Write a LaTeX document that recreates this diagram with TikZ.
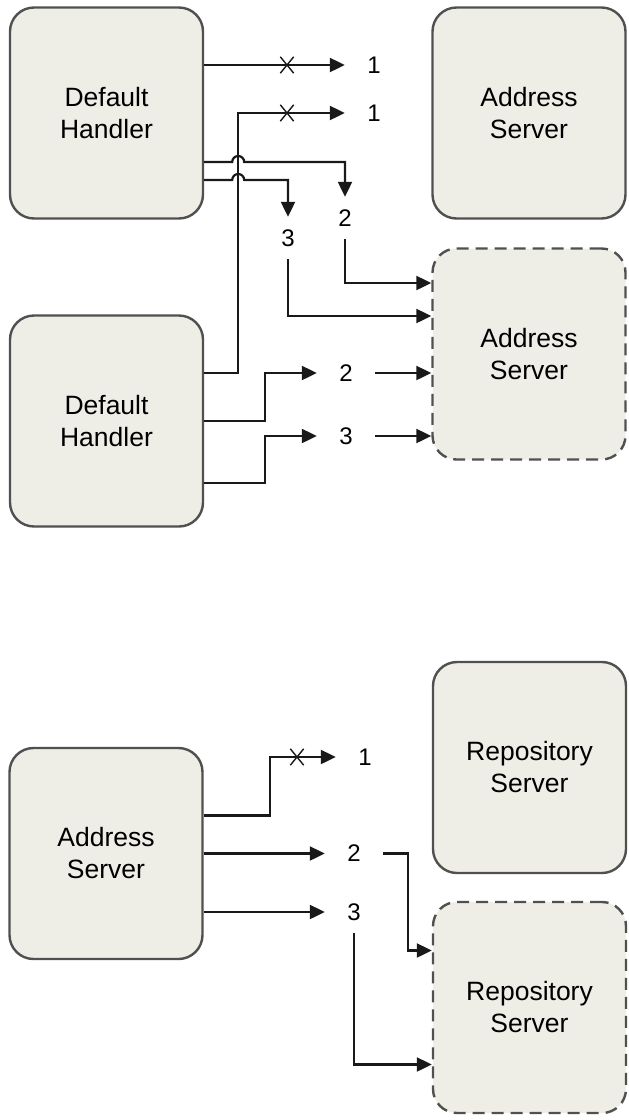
\documentclass[tikz,border=0pt]{standalone}
\usepackage{fontspec}
\setmainfont{Liberation Sans}
\usetikzlibrary{arrows.meta,shapes.misc}
\definecolor{boxfill}{RGB}{238,238,230}
\definecolor{boxline}{RGB}{80,80,80}
\definecolor{wire}{RGB}{25,25,25}
\begin{document}
\begin{tikzpicture}[x=1pt,y=1pt,
  box/.style={rectangle, rounded corners=24pt, draw=boxline, line width=2.4pt, fill=boxfill,
    minimum width=193pt, minimum height=211pt, align=center, font=\fontsize{26.5}{32}\selectfont},
  dashbox/.style={box, dash pattern=on 12pt off 7pt},
  num/.style={minimum width=58pt, minimum height=42pt, inner sep=0pt, font=\fontsize{24}{28}\selectfont},
  link/.style={draw=wire, line width=2.2pt, -{Triangle[length=15pt,width=14pt]}},
  xmark/.style={cross out, draw=wire, line width=1.4pt, minimum width=12pt, minimum height=15pt, inner sep=0pt}]

\useasboundingbox (0,0) rectangle (629,-1120);

\node[box] (dhA) at (106.5,-113) {Default\\Handler};
\node[box] (asA) at (529,-113) {Address\\Server};
\node[dashbox] (asB) at (529,-354) {Address\\Server};
\node[box] (dhB) at (106.5,-421) {Default\\Handler};

\node[num] (oneA) at (374,-65) {1};
\node[num] (oneB) at (374,-113) {1};
\node[num] (twoA) at (345,-218) {2};
\node[num] (threeA) at (288,-238) {3};
\node[num] (twoB) at (346,-373) {2};
\node[num] (threeB) at (346,-436) {3};

\node[xmark] (xA) at (287,0 |- oneA) {};
\node[xmark] (xB) at (287,0 |- oneB) {};

\draw[link] ([yshift=48pt]dhA.east) -- (oneA.west);
\draw[link] ([yshift=48pt]dhB.east) -- ++(34,0) |- (oneB.west);
\draw[link] ([yshift=-49pt]dhA.east) -- ++(28,0) arc[start angle=180,end angle=0,radius=6] -| (twoA.north);
\draw[link] ([yshift=-67pt]dhA.east) -- ++(28,0) arc[start angle=180,end angle=0,radius=6] -| (threeA.north);
\draw[link] (twoA.south) |- ([yshift=71pt]asB.west);
\draw[link] (threeA.south) |- ([yshift=38pt]asB.west);
\draw[link] (dhB.east) -- ++(61,0) |- (twoB.west);
\draw[link] ([yshift=-62pt]dhB.east) -- ++(61,0) |- (threeB.west);
\draw[link] (twoB.east) -- (twoB.east -| asB.west);
\draw[link] (threeB.east) -- (threeB.east -| asB.west);

\node[box] (asC) at (106,-853.5) {Address\\Server};
\node[box] (rsA) at (529.5,-767.5) {Repository\\Server};
\node[dashbox] (rsB) at (529.5,-1007.5) {Repository\\Server};

\node[num] (oneC) at (365,-757) {1};
\node[num] (twoC) at (354,-853.5) {2};
\node[num] (threeC) at (354,-912) {3};

\node[xmark] (xC) at (297,0 |- oneC) {};

\draw[link] ([yshift=38pt]asC.east) -- ++(66,0) |- (oneC.west);
\draw[link] (asC.east) -- (twoC.west);
\draw[link] ([yshift=-58.5pt]asC.east) -- (threeC.west);
\draw[link] (twoC.east) -- ++(25,0) |- ([yshift=57pt]rsB.west);
\draw[link] (threeC.south) |- ([yshift=-57pt]rsB.west);

\end{tikzpicture}
\end{document}
